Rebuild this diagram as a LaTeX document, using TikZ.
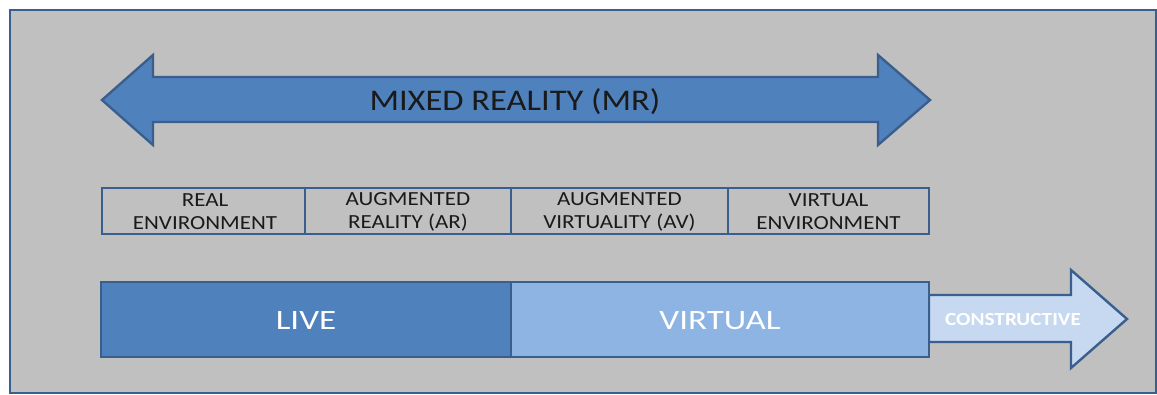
\documentclass[tikz,border=0pt]{standalone}
\usepackage{fontspec}
\setmainfont{Carlito}
\newfontfamily\labelfont[FakeStretch=1.15]{Carlito}
\newfontfamily\barfont[FakeStretch=1.25]{Carlito}
\definecolor{panel}{HTML}{C0C0C0}
\definecolor{edge}{HTML}{3A5F8F}
\definecolor{mrblue}{HTML}{4F81BD}
\definecolor{virt}{HTML}{8EB4E3}
\definecolor{cons}{HTML}{C6D9F1}
\definecolor{ink}{HTML}{1A1A1A}
\tikzset{
  shape outline/.style={draw=edge, line width=2.4pt, line join=miter},
  cell/.style={shape outline, line width=2pt},
  celltext/.style={text=ink, font=\labelfont\fontsize{20}{23}\selectfont, align=center},
  bartext/.style={text=white, font=\barfont\fontsize{28}{32}\selectfont},
}
\begin{document}
\begin{tikzpicture}[x=1pt, y=-1pt]
  \useasboundingbox (0,0) rectangle (1157,394);
  \fill[white] (0,0) rectangle (1157,394);
  % panel
  \draw[fill=panel, draw=edge, line width=2.6pt] (10,10) rectangle (1156,393);

  % mixed reality double arrow
  \draw[shape outline, fill=mrblue]
    (102,100) -- (153,55) -- (153,77) -- (878,77) -- (878,55) -- (930,100)
    -- (878,145) -- (878,122) -- (153,122) -- (153,145) -- cycle;
  \node[text=ink, font=\labelfont\fontsize{30}{34}\selectfont] (mr) at (515,101.5) {MIXED REALITY (MR)};

  % continuum cells
  \draw[cell] (102,188) rectangle (305,234);
  \draw[cell] (305,188) rectangle (511,234);
  \draw[cell] (511,188) rectangle (728,234);
  \draw[cell] (728,188) rectangle (929,234);
  \node[celltext] (re) at (205,211.5) {REAL\\ENVIRONMENT};
  \node[celltext] (ar) at (408,211.5) {AUGMENTED\\REALITY (AR)};
  \node[celltext] (av) at (619.5,211.5) {AUGMENTED\\VIRTUALITY (AV)};
  \node[celltext] (ve) at (828.5,211.5) {VIRTUAL\\ENVIRONMENT};

  % constructive arrow
  \draw[shape outline, fill=cons]
    (929,295) -- (1071,295) -- (1071,270) -- (1127,319) -- (1071,368)
    -- (1071,342) -- (929,342) -- cycle;
  \node[text=white, font=\labelfont\fontsize{18.5}{21}\selectfont\bfseries] (cn) at (1013,319) {CONSTRUCTIVE};

  % live / virtual bar
  \draw[shape outline, fill=mrblue] (101,282) rectangle (511,357);
  \draw[shape outline, fill=virt] (511,282) rectangle (929,357);
  \node[bartext] (live) at (306,320.5) {LIVE};
  \node[bartext] (virtual) at (720,320.5) {VIRTUAL};
\end{tikzpicture}
\end{document}
